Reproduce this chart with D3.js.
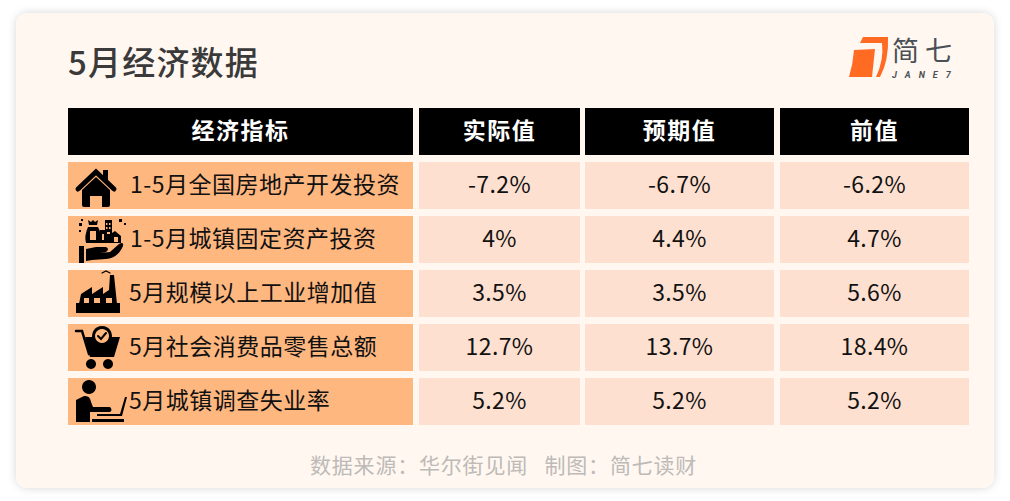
<!DOCTYPE html>
<html>
<head>
<meta charset="utf-8">
<script src="https://cdn.jsdelivr.net/npm/d3@7"></script>
<style>
  html, body { margin: 0; padding: 0; background: #fff; }
  svg { display: block; }
  text { font-family: "Noto Sans CJK SC", "Noto Sans", sans-serif; }
</style>
</head>
<body>
<div id="chart"></div>
<script>
const headers = ['经济指标', '实际值', '预期值', '前值'];
const indicators = ['1-5月全国房地产开发投资', '1-5月城镇固定资产投资', '5月规模以上工业增加值', '5月社会消费品零售总额', '5月城镇调查失业率'];
const actual = ['-7.2%', '4%', '3.5%', '12.7%', '5.2%'];
const expected = ['-6.7%', '4.4%', '3.5%', '13.7%', '5.2%'];
const previous = ['-6.2%', '4.7%', '5.6%', '18.4%', '5.2%'];
const icons = ['house', 'city', 'factory', 'cart', 'worker'];

const width = 1010, height = 501;
const rowFill = '#ffb780', cellFill = '#fee0d0', cardFill = '#fff7f0';

const svg = d3.select('#chart').append('svg')
    .attr('width', width)
    .attr('height', height);

// card with soft shadow
const blur = svg.append('defs').append('filter').attr('id', 'shadow')
    .attr('x', '-5%').attr('y', '-5%').attr('width', '110%').attr('height', '110%');
blur.append('feDropShadow')
    .attr('dx', 0).attr('dy', 0)
    .attr('stdDeviation', 4)
    .attr('flood-color', '#000')
    .attr('flood-opacity', 0.16);

svg.append('rect')
    .attr('x', 16).attr('y', 13)
    .attr('width', 978).attr('height', 475)
    .attr('rx', 12)
    .attr('fill', cardFill)
    .attr('filter', 'url(#shadow)');

svg.append('text')
    .attr('x', 68).attr('y', 75)
    .attr('font-size', 33)
    .attr('font-weight', 500)
    .attr('letter-spacing', 1.2)
    .attr('fill', '#3a3a3a')
    .text('5月经济数据');

// logo
const logo = svg.append('g');
logo.append('path')
    .attr('d', 'M863 37 L888 37 Q889 60 880 77 L876 77 Q884 60 882 43 L860 43 Z')
    .attr('fill', '#ff6b22');
logo.append('path')
    .attr('d', 'M854 50 L875 49 L872 77 L849 77 Q853 64 854 50 Z')
    .attr('fill', '#ff6b22');
logo.append('text')
    .attr('x', 892).attr('y', 61)
    .attr('font-size', 27)
    .attr('font-weight', 400)
    .attr('letter-spacing', 6)
    .attr('fill', '#4a5055')
    .text('简七');
logo.append('text')
    .attr('x', 892).attr('y', 77.5)
    .attr('font-size', 9)
    .attr('font-weight', 700)
    .attr('font-style', 'italic')
    .attr('letter-spacing', 8)
    .attr('fill', '#4a5055')
    .style('font-family', 'Roboto')
    .text('JANE7');

// table layout
const colEdges = [68, 419, 585, 780];
const colWidths = [345, 161, 189, 189];
const rowScale = d3.scaleBand()
    .domain(d3.range(indicators.length))
    .range([162, 425])
    .paddingInner(7 / 54);
const rowH = rowScale.bandwidth();

const headG = svg.append('g');
headG.selectAll('rect').data(headers).join('rect')
    .attr('x', (d, i) => colEdges[i])
    .attr('y', 108)
    .attr('width', (d, i) => colWidths[i])
    .attr('height', 47)
    .attr('fill', '#000');
headG.selectAll('text').data(headers).join('text')
    .attr('x', (d, i) => colEdges[i] + colWidths[i] / 2)
    .attr('y', 139)
    .attr('text-anchor', 'middle')
    .attr('font-size', 23)
    .attr('font-weight', 700)
    .attr('letter-spacing', 1.5)
    .attr('fill', '#fff')
    .text(d => d);

const rows = svg.append('g').selectAll('g')
    .data(indicators)
    .join('g')
    .attr('transform', (d, i) => `translate(0,${rowScale(i)})`);

rows.append('rect')
    .attr('x', colEdges[0]).attr('width', colWidths[0]).attr('height', rowH)
    .attr('fill', rowFill);

rows.append('text')
    .attr('x', (d, i) => i < 2 ? 130 : 129)
    .attr('y', rowH / 2 + 7)
    .attr('font-size', 23)
    .attr('letter-spacing', 0.5)
    .attr('fill', '#111')
    .text(d => d);

[actual, expected, previous].forEach((series, c) => {
    rows.append('rect')
        .attr('x', colEdges[c + 1]).attr('width', colWidths[c + 1]).attr('height', rowH)
        .attr('fill', cellFill);
    rows.append('text')
        .attr('x', colEdges[c + 1] + colWidths[c + 1] / 2)
        .attr('y', rowH / 2 + 7)
        .attr('text-anchor', 'middle')
        .attr('font-size', 23)
        .attr('letter-spacing', 0.4)
        .attr('fill', '#111')
        .text((d, i) => series[i]);
});

// pictograms, drawn in local coordinates from the row's top-left
const iconShapes = {
    house: [
        { d: 'M78 27 L96 10 L114 27', stroke: 5 },
        { d: 'M103 14 L103 8 L108 8 L108 19 Z' },
        { d: 'M82 28 L96 15 L110 28 L110 43 Q110 45 108 45 L102 45 L102 34 L90 34 L90 45 L84 45 Q82 45 82 43 Z' }
    ],
    city: [
        { d: 'M79 30 L84 30 L84 47 L79 47 Z' },
        { d: 'M86 33 L96 31 L106 31 Q110 33 106 36 L100 37 L110 36 L119 28 Q124 25 123 30 Q118 42 106 43 L92 44 L86 45 Z' },
        { d: 'M88 11 L98 11 Q103 20 100 27 L86 27 Q84 20 88 11 Z' },
        { d: 'M88 4 L91 6 L93 4 L95 6 L98 4 L97 9 L89 9 Z' },
        { d: 'M104 14 L105 14 L105 4 L112 4 L112 17 L115 15 L121 20 L121 27 L100 27 L100 14 Z' },
        { d: 'M90 15 h6 v9 h-6 Z M106 7 h1.5 v2 h-1.5 Z M109 7 h1.5 v2 h-1.5 Z M106 11 h1.5 v2 h-1.5 Z M109 11 h1.5 v2 h-1.5 Z M102 18 h2 v6 h-2 Z M107 16 h3 v2 h-3 Z M114 21 h4 v5 h-4 Z', hole: true },
        { d: 'M79 7 h3 v3 h-3 Z M79 14 h2 v2 h-2 Z M81 3 h2 v2 h-2 Z M119 3 h3 v3 h-3 Z M124 7 h2 v2 h-2 Z' }
    ],
    factory: [
        { d: 'M76 33 L120 33 L120 43 L76 43 Z' },
        { d: 'M79 34 L81 24 L92 17 L92 24 L103 17 L103 24 L109 20 L110 5 L114 5 L117 34 Z' },
        { d: 'M102 3 L106 1 L110 3', stroke: 1.2 },
        { d: 'M84 28 h5 v5 h-5 Z M94 28 h6 v5 h-6 Z M106 28 h6 v5 h-6 Z', hole: true }
    ],
    cart: [
        { d: 'M76 7 L82 7 L89 30 L113 30', stroke: 2.5 },
        { d: 'M85 13 L120 13 L114 33 L90 33 Z' },
        { d: 'M102 2 a10 10 0 1 0 0.01 0 Z' },
        { d: 'M102 5 a7 7 0 1 0 0.01 0 Z', hole: true },
        { d: 'M98 12 L101 15 L106 9', stroke: 2 },
        { d: 'M91 35 a5 5 0 1 0 0.01 0 Z M108 35 a5 5 0 1 0 0.01 0 Z' }
    ],
    worker: [
        { d: 'M89 2 a7 7 0 1 0 0.01 0 Z' },
        { d: 'M76 22 L84 18 Q90 17 91 24 L93 29 L110 29 Q113 32 110 34 L90 34 L90 44 L76 44 Z' },
        { d: 'M92 41 L124 41 L124 44 L92 44 Z' },
        { d: 'M97 36 L120 36 L125 19 L127 19 L122 38 L97 38 Z' }
    ]
};

rows.each(function (d, i) {
    d3.select(this).selectAll('path.icon').data(iconShapes[icons[i]]).join('path')
        .attr('class', 'icon')
        .attr('d', s => s.d)
        .attr('fill', s => s.stroke ? 'none' : (s.hole ? rowFill : '#000'))
        .attr('stroke', s => s.stroke ? '#000' : null)
        .attr('stroke-width', s => s.stroke || null)
        .attr('stroke-linecap', 'round');
});

svg.append('text')
    .attr('x', 310).attr('y', 473)
    .attr('font-size', 21)
    .attr('letter-spacing', 0.8)
    .attr('fill', '#bdbab8')
    .style('white-space', 'pre')
    .text('数据来源：华尔街见闻   制图：简七读财');
</script>
</body>
</html>
